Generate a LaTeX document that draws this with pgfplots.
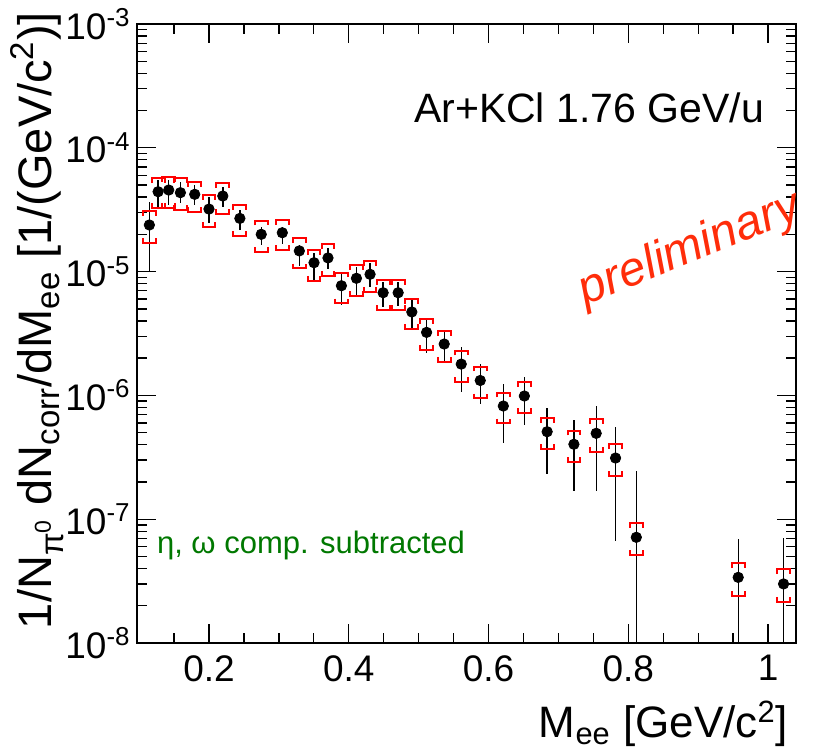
\documentclass[border=0pt]{standalone}
\usepackage{fontspec}
\setmainfont{Liberation Sans}
\usepackage{pgfplots}
\pgfplotsset{compat=1.18}
\usepackage{pgfplotstable}

\definecolor{sysred}{RGB}{255,0,0}
\definecolor{darkgreen}{RGB}{0,120,0}
\definecolor{prelim}{RGB}{255,45,10}

% systematic-error brackets: upper cap opens downwards, lower cap opens upwards
\pgfdeclareplotmark{sysup}{%
  \pgfpathmoveto{\pgfqpoint{-3.2pt}{-2.4pt}}%
  \pgfpathlineto{\pgfqpoint{-3.2pt}{0pt}}%
  \pgfpathlineto{\pgfqpoint{3.2pt}{0pt}}%
  \pgfpathlineto{\pgfqpoint{3.2pt}{-2.4pt}}%
  \pgfusepathqstroke}
\pgfdeclareplotmark{sysdown}{%
  \pgfpathmoveto{\pgfqpoint{-3.2pt}{2.4pt}}%
  \pgfpathlineto{\pgfqpoint{-3.2pt}{0pt}}%
  \pgfpathlineto{\pgfqpoint{3.2pt}{0pt}}%
  \pgfpathlineto{\pgfqpoint{3.2pt}{2.4pt}}%
  \pgfusepathqstroke}

% x, yield, stat. low/high, syst. low/high
\pgfplotstableread{
x      y        slo      shi      ylo      yhi
0.1147 2.38e-5  9.93e-6  3.65e-5  1.70e-5  3.09e-5
0.1272 4.42e-5  3.34e-5  5.49e-5  3.28e-5  5.67e-5
0.1424 4.56e-5  3.45e-5  5.49e-5  3.28e-5  5.84e-5
0.1591 4.34e-5  3.56e-5  5.32e-5  3.14e-5  5.67e-5
0.1796 4.21e-5  3.45e-5  5.00e-5  3.05e-5  5.32e-5
0.2000 3.20e-5  2.45e-5  4.03e-5  2.31e-5  4.16e-5
0.2198 4.08e-5  3.34e-5  4.85e-5  2.92e-5  5.16e-5
0.2442 2.69e-5  2.17e-5  3.14e-5  1.94e-5  3.45e-5
0.2748 2.00e-5  1.63e-5  2.31e-5  1.45e-5  2.58e-5
0.3049 2.06e-5  1.67e-5  2.31e-5  1.49e-5  2.61e-5
0.3293 1.47e-5  1.10e-5  1.64e-5  1.06e-5  1.86e-5
0.3503 1.18e-5  8.55e-6  1.41e-5  8.44e-6  1.49e-5
0.3703 1.29e-5  1.05e-5  1.55e-5  9.27e-6  1.66e-5
0.3895 7.69e-6  5.37e-6  9.69e-6  5.54e-6  9.80e-6
0.4110 8.83e-6  6.47e-6  1.09e-5  6.35e-6  1.13e-5
0.4305 9.51e-6  7.55e-6  1.17e-5  6.88e-6  1.22e-5
0.4492 6.75e-6  5.21e-6  8.29e-6  4.90e-6  8.55e-6
0.4707 6.75e-6  5.30e-6  8.29e-6  4.90e-6  8.55e-6
0.4903 4.72e-6  3.48e-6  5.90e-6  3.42e-6  6.01e-6
0.5114 3.23e-6  2.19e-6  4.06e-6  2.33e-6  4.14e-6
0.5366 2.60e-6  1.82e-6  3.27e-6  1.87e-6  3.33e-6
0.5610 1.79e-6  1.06e-6  2.47e-6  1.28e-6  2.30e-6
0.5882 1.32e-6  8.52e-7  1.79e-6  9.47e-7  1.71e-6
0.6212 8.21e-7  4.15e-7  1.24e-6  5.95e-7  1.055e-6
0.6513 9.89e-7  5.77e-7  1.42e-6  7.17e-7  1.29e-6
0.6839 5.09e-7  2.32e-7  7.86e-7  3.69e-7  6.53e-7
0.7222 4.03e-7  1.70e-7  6.33e-7  2.90e-7  5.19e-7
0.7541 4.94e-7  1.70e-7  8.21e-7  3.51e-7  6.41e-7
0.7818 3.12e-7  6.70e-8  5.59e-7  2.23e-7  4.03e-7
0.8115 7.14e-8  1e-10    2.46e-7  5.14e-8  9.37e-8
0.9573 3.39e-8  1e-10    6.88e-8  2.41e-8  4.40e-8
1.0222 3.00e-8  1e-10    7.01e-8  2.16e-8  3.94e-8
}\spectrum

\begin{document}
\begin{tikzpicture}
\begin{axis}[
  at={(0,0)}, anchor=south west,
  scale only axis, width=329.5pt, height=309.5pt,
  xmin=0.097, xmax=1.04,
  ymode=log, ymin=1e-8, ymax=1e-3,
  axis line style={line width=1pt, black},
  every tick/.style={black, line width=0.65pt},
  major tick length=9.5pt, minor tick length=5pt,
  tick align=inside,
  xtick={0.2,0.4,0.6,0.8,1}, xticklabels={0.2,0.4,0.6,0.8,1},
  minor xtick={0.15,0.25,0.3,0.35,0.45,0.5,0.55,0.65,0.7,0.75,0.85,0.9,0.95},
  ytick={1e-8,1e-7,1e-6,1e-5,1e-4,1e-3},
  yticklabels={10\textsuperscript{-8},10\textsuperscript{-7},10\textsuperscript{-6},10\textsuperscript{-5},10\textsuperscript{-4},10\textsuperscript{-3}},
  ticklabel style={font=\fontsize{18.5}{20}\selectfont},
  xticklabel style={inner sep=0pt, yshift=-6pt},
  yticklabel style={inner sep=0pt, xshift=-3pt},
  clip mode=global,
]
% systematic uncertainties
\addplot[only marks, mark=sysup, sysred, line width=1pt] table[x=x, y=yhi] {\spectrum};
\addplot[only marks, mark=sysdown, sysred, line width=1pt] table[x=x, y=ylo] {\spectrum};
% data points with statistical errors
\addplot[only marks, mark=*, mark size=2.6pt, black,
  error bars/.cd, y dir=both, y explicit, error mark=none,
  error bar style={line width=0.7pt, black}]
  table[x=x, y=y,
        y error plus expr=\thisrow{shi}-\thisrow{y},
        y error minus expr=\thisrow{y}-\thisrow{slo}] {\spectrum};
\end{axis}

\node[anchor=center, font=\fontsize{20.5}{22}\selectfont] at (226pt,267.5pt) {Ar+KCl 1.76 GeV/u};
\node[anchor=center, text=darkgreen, font=\fontsize{15.5}{17}\selectfont] at (87pt,49pt) {η, ω comp. subtracted};
\node[anchor=center, text=prelim, rotate=22, font=\fontsize{24}{26}\selectfont\itshape] at (276.5pt,196.5pt) {preliminary};

\node[anchor=base east, font=\fontsize{22}{24}\selectfont] at (329pt,-47.5pt)
  {M\textsubscript{ee} [GeV/c\textsuperscript{2}]};
\node[anchor=base east, rotate=90, font=\fontsize{23.5}{25}\selectfont] at (-42.5pt,319pt)
  {1/N\textsubscript{π\textsuperscript{0}} dN\textsubscript{corr}/dM\textsubscript{ee} [1/(GeV/c\textsuperscript{2})]};

\pgfresetboundingbox
\useasboundingbox (-68.5pt,-53pt) rectangle (341pt,321.5pt);
\end{tikzpicture}
\end{document}
